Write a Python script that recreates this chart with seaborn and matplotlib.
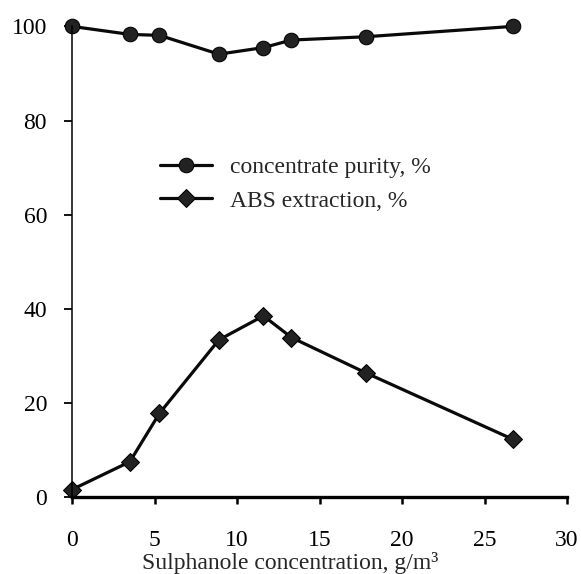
import seaborn as sns
import matplotlib.pyplot as plt
import pandas as pd

# sulphanole concentration, g/m3
conc = [0, 3.5, 5.3, 8.9, 11.6, 13.3, 17.8, 26.7]
purity = [100, 98.3, 98.1, 94.1, 95.5, 97.1, 97.8, 100]
abs_extraction = [1.6, 7.5, 17.8, 33.4, 38.5, 33.9, 26.4, 12.3]


def main():
    sns.set_style("ticks")
    plt.rcParams['font.family'] = ['Liberation Serif', 'DejaVu Serif']
    plt.rcParams['font.size'] = 17

    df = pd.DataFrame({'conc': conc, 'purity': purity, 'abs': abs_extraction})

    fig = plt.figure(figsize=(5.81, 5.74), dpi=100)
    ax = fig.add_axes([0.124, 0.134, 0.852, 0.82])

    sns.lineplot(x='conc', y='purity', data=df, ax=ax, color='#0a0a0a',
                 linewidth=2.3, marker='o', markersize=10.5,
                 markeredgecolor='#000000', markerfacecolor='#222222',
                 label='concentrate purity, %', clip_on=False)
    sns.lineplot(x='conc', y='abs', data=df, ax=ax, color='#0a0a0a',
                 linewidth=2.3, marker='D', markersize=9.5,
                 markeredgecolor='#000000', markerfacecolor='#222222',
                 label='ABS extraction, %', clip_on=False)

    ax.set_xlim(0, 30)
    ax.set_ylim(0, 100)
    ax.set_xticks(range(0, 31, 5))
    ax.set_yticks(range(0, 101, 20))
    ax.set_xlabel('Sulphanole concentration, g/m³', fontsize=17)
    # label sits centred on the figure, close under the tick labels
    ax.xaxis.set_label_coords(0.441, -0.116)
    ax.set_ylabel('')
    ax.tick_params(axis='both', labelsize=17, color='black', labelcolor='black')
    ax.tick_params(axis='x', length=5, width=1.8, pad=19)
    ax.tick_params(axis='y', length=6, width=1.3, pad=12)

    sns.despine(ax=ax)
    ax.spines['left'].set_linewidth(1.1)
    ax.spines['bottom'].set_linewidth(2.4)
    ax.spines['left'].set_color('black')
    ax.spines['bottom'].set_color('black')

    ax.legend(loc='upper left', bbox_to_anchor=(0.178, 0.724), frameon=False,
              fontsize=17, handlelength=2.2, handletextpad=0.76,
              labelspacing=0.52, borderpad=0, borderaxespad=0)

    fig.savefig('out.png', dpi=100)


main()
